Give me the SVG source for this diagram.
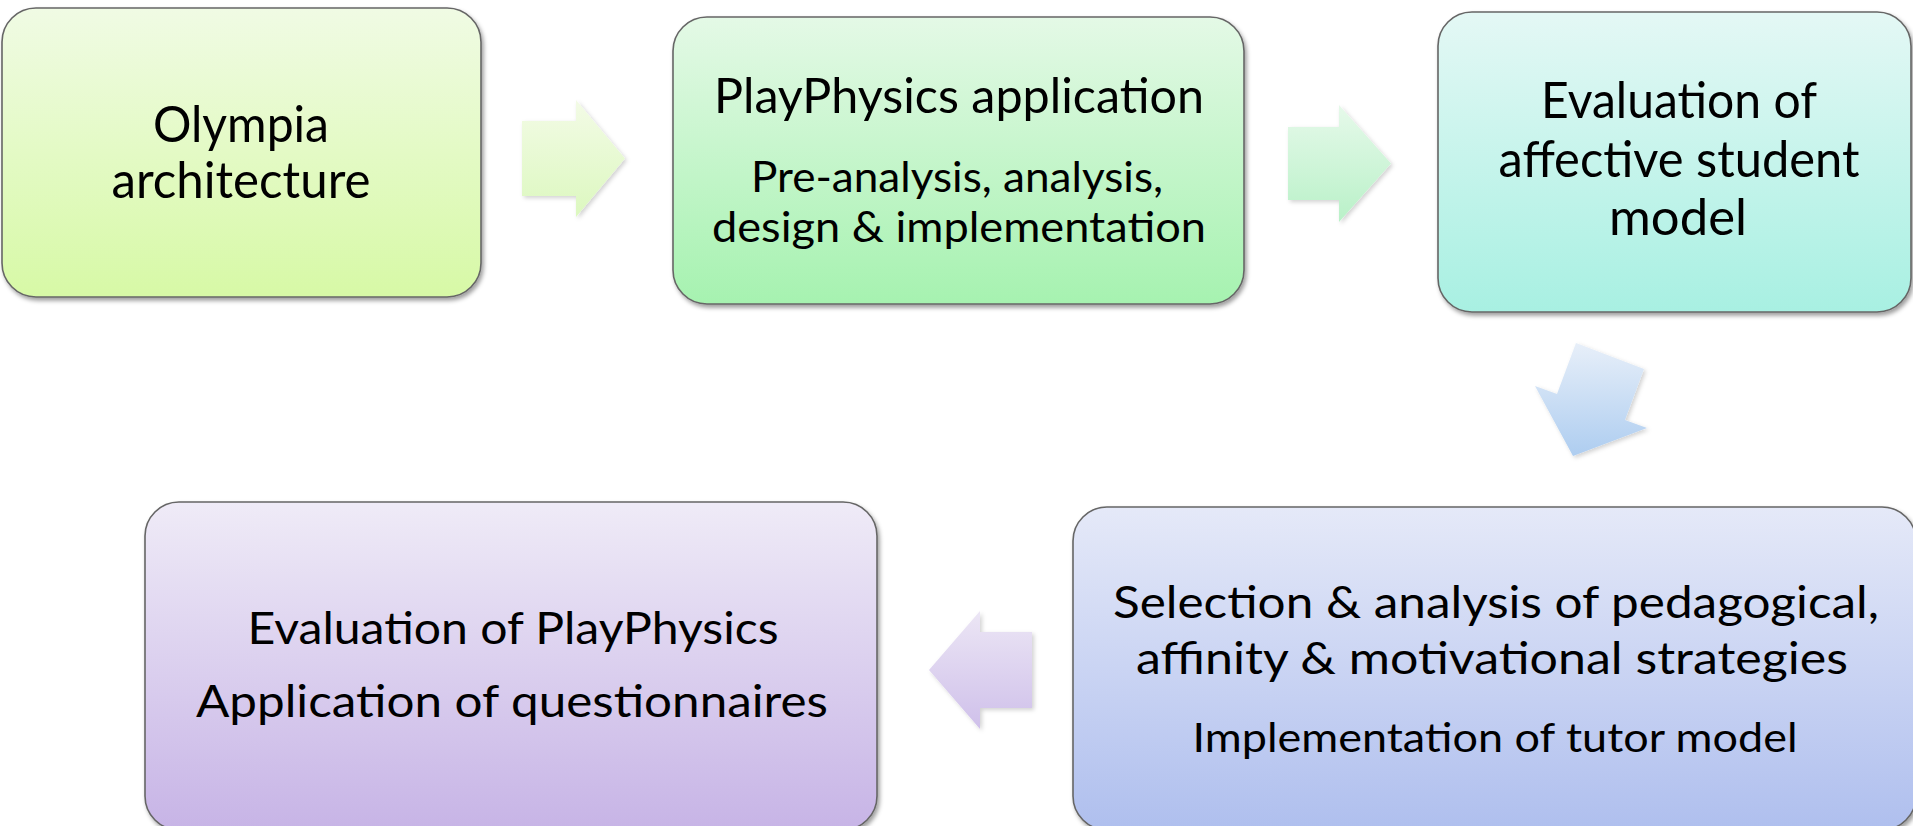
<svg xmlns="http://www.w3.org/2000/svg" width="1913" height="826" viewBox="0 0 1913 826">
  <style>
    .box { stroke: #666; stroke-width: 1.6; filter: url(#shadow); }
    .arrow { stroke: none; filter: url(#softShadow); }
    text { font-family: Lato, "Noto Sans", "Liberation Sans", sans-serif; fill: #000; text-anchor: middle; }
  </style>
  <defs>
    <filter id="shadow" x="-5%" y="-5%" width="110%" height="115%">
      <feDropShadow dx="2" dy="3" stdDeviation="2" flood-color="#000" flood-opacity="0.38"/>
    </filter>
    <filter id="softShadow" x="-10%" y="-10%" width="125%" height="125%">
      <feDropShadow dx="2" dy="2" stdDeviation="2" flood-color="#000" flood-opacity="0.18"/>
    </filter>
    <linearGradient id="g1" x1="0" y1="0" x2="0" y2="1">
      <stop offset="0" stop-color="#f0fbe4"/>
      <stop offset="1" stop-color="#d7f9a6"/>
    </linearGradient>
    <linearGradient id="g2" x1="0" y1="0" x2="0" y2="1">
      <stop offset="0" stop-color="#e4f9e6"/>
      <stop offset="1" stop-color="#a6f2b0"/>
    </linearGradient>
    <linearGradient id="g3" x1="0" y1="0" x2="0" y2="1">
      <stop offset="0" stop-color="#e4f8f5"/>
      <stop offset="1" stop-color="#a8f0e2"/>
    </linearGradient>
    <linearGradient id="g4" x1="0" y1="0" x2="0" y2="1">
      <stop offset="0" stop-color="#e5e9f8"/>
      <stop offset="1" stop-color="#afbfee"/>
    </linearGradient>
    <linearGradient id="g5" x1="0" y1="0" x2="0" y2="1">
      <stop offset="0" stop-color="#efebf7"/>
      <stop offset="1" stop-color="#c7b4e6"/>
    </linearGradient>
    <linearGradient id="a1" x1="0" y1="0" x2="0" y2="1">
      <stop offset="0" stop-color="#f3fbe6"/>
      <stop offset="1" stop-color="#dcf8bf"/>
    </linearGradient>
    <linearGradient id="a2" x1="0" y1="0" x2="0" y2="1">
      <stop offset="0" stop-color="#e6f9ea"/>
      <stop offset="1" stop-color="#b9f1c8"/>
    </linearGradient>
    <linearGradient id="a3" x1="0" y1="0" x2="0" y2="1">
      <stop offset="0" stop-color="#e7eff9"/>
      <stop offset="1" stop-color="#aecdf0"/>
    </linearGradient>
    <linearGradient id="a4" x1="0" y1="0" x2="0" y2="1">
      <stop offset="0" stop-color="#ece6f5"/>
      <stop offset="1" stop-color="#cfc0ea"/>
    </linearGradient>
  </defs>

  <!-- connectors: block arrows between the steps -->
  <g id="connectors">
    <polygon class="arrow" fill="url(#a1)" points="522,121 576,121 576,100 625,158.5 576,217 576,196 522,196"/>
    <polygon class="arrow" fill="url(#a2)" points="1288,127 1339,127 1339,105 1391,163.5 1339,222 1339,200 1288,200"/>
    <polygon class="arrow" fill="url(#a3)" points="1576,343 1644,369 1625,420 1647,428 1573,456 1535,386 1557,394"/>
    <polygon class="arrow" fill="url(#a4)" points="1032,632 980,632 980,611 929,670 980,729 980,708 1032,708"/>
  </g>

  <g id="step-olympia">
    <rect class="box" x="2" y="8" width="479" height="289" rx="34" fill="url(#g1)"/>
    <text x="241" y="142" font-size="51" textLength="176" lengthAdjust="spacingAndGlyphs">Olympia</text>
    <text x="241" y="198" font-size="51" textLength="259" lengthAdjust="spacingAndGlyphs">architecture</text>
  </g>

  <g id="step-playphysics">
    <rect class="box" x="673" y="17" width="571" height="287" rx="34" fill="url(#g2)"/>
    <text x="959" y="113" font-size="48" textLength="490" lengthAdjust="spacingAndGlyphs">PlayPhysics application</text>
    <text x="957" y="192" font-size="43" textLength="412" lengthAdjust="spacingAndGlyphs">Pre-analysis, analysis,</text>
    <text x="959" y="242" font-size="43" textLength="494" lengthAdjust="spacingAndGlyphs">design &amp; implementation</text>
  </g>

  <g id="step-student-model">
    <rect class="box" x="1438" y="12" width="473" height="300" rx="34" fill="url(#g3)"/>
    <text x="1679" y="118" font-size="50" textLength="276" lengthAdjust="spacingAndGlyphs">Evaluation of</text>
    <text x="1679" y="177" font-size="50" textLength="361" lengthAdjust="spacingAndGlyphs">affective student</text>
    <text x="1678" y="235" font-size="50" textLength="138" lengthAdjust="spacingAndGlyphs">model</text>
  </g>

  <g id="step-tutor-model">
    <rect class="box" x="1073" y="507" width="843" height="323" rx="34" fill="url(#g4)"/>
    <text x="1496" y="618" font-size="45" textLength="766" lengthAdjust="spacingAndGlyphs">Selection &amp; analysis of pedagogical,</text>
    <text x="1492" y="674" font-size="45" textLength="712" lengthAdjust="spacingAndGlyphs">affinity &amp; motivational strategies</text>
    <text x="1495" y="752" font-size="40" textLength="605" lengthAdjust="spacingAndGlyphs">Implementation of tutor model</text>
  </g>

  <g id="step-evaluation">
    <rect class="box" x="145" y="502" width="732" height="328" rx="34" fill="url(#g5)"/>
    <text x="513" y="644" font-size="44" textLength="531" lengthAdjust="spacingAndGlyphs">Evaluation of PlayPhysics</text>
    <text x="512" y="717" font-size="44" textLength="632" lengthAdjust="spacingAndGlyphs">Application of questionnaires</text>
  </g>
</svg>
